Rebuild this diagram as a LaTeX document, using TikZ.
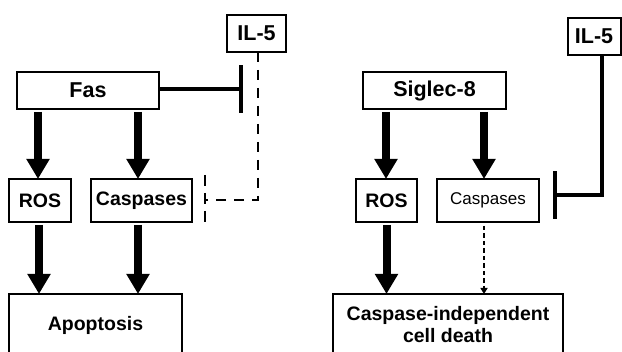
\documentclass[tikz,border=0pt]{standalone}
\usepackage{fontspec}
\setmainfont{Liberation Sans}
\usetikzlibrary{arrows.meta}
\begin{document}
\begin{tikzpicture}[x=1pt,y=-1pt,
  box/.style={draw=black,line width=2pt,fill=white,inner sep=0pt,outer sep=0pt,align=center},
  big/.style={font=\fontsize{21.5}{24}\selectfont\bfseries},
  mid/.style={font=\fontsize{19.5}{22}\selectfont\bfseries},
  thin/.style={font=\fontsize{17}{20}\selectfont},
  fat/.style={line width=8pt,-{Triangle[width=22pt,length=20pt]},shorten <=3pt},
  inhib/.style={line width=4pt,-{Bar[width=48pt]}},
  dashline/.style={line width=1.5pt,dash pattern=on 10pt off 8pt}
]
\useasboundingbox (0,0) rectangle (622,352);
\clip (0,0) rectangle (622,352);
% left
\node[box,big,minimum width=59pt,minimum height=37pt] (IL5L) at (256.5,33.5) {IL-5};
\node[box,big,minimum width=142pt,minimum height=37pt] (Fas) at (88,90.5) {Fas};
\node[box,mid,minimum width=62pt,minimum height=43pt] (ROSL) at (40,200.5) {ROS};
\node[box,mid,minimum width=101pt,minimum height=43pt] (CasL) at (141.5,200.5) {Caspases};
\node[box,mid,minimum width=173pt,minimum height=62pt] (Apop) at (95.5,325) {Apoptosis};
% right
\node[box,big,minimum width=53pt,minimum height=37pt] (IL5R) at (594,36.5) {IL-5};
\node[box,big,minimum width=143pt,minimum height=37pt] (Sig) at (434.5,90.5) {Siglec-8};
\node[box,mid,minimum width=61pt,minimum height=43pt] (ROSR) at (386.5,200.5) {ROS};
\node[box,thin,minimum width=102pt,minimum height=43pt] (CasR) at (488,200.5) {Caspases};
\node[box,mid,minimum width=230pt,minimum height=62pt] (CID) at (448,325) {Caspase-independent\\cell death};
% left arrows
\draw[fat] (Fas.south -| ROSL.north) ++(-2,0) coordinate (a1) -- (a1 |- ROSL.north);
\draw[fat] (Fas.south -| 138,0) coordinate (a2) -- (a2 |- CasL.north);
\draw[fat] (ROSL.south) ++(-1,0) coordinate (a3) -- (a3 |- Apop.north);
\draw[fat] (CasL.south -| 138,0) coordinate (a4) -- (a4 |- Apop.north);
\coordinate (barL) at (243,89.5);
\draw[inhib] (Fas.east |- barL) -- (barL);
\coordinate (dL1) at (258,200);
\coordinate (dL2) at (205,200);
\draw[dashline] (IL5L.south -| dL1) -- (dL1) -- (dL2);
\coordinate (dLt) at (205,175);
\coordinate (dLb) at (205,223);
\draw[dashline,dash pattern=on 11pt off 7pt] (dLt) -- (dLb);
% right arrows
\draw[fat] (Sig.south -| 386,0) coordinate (b1) -- (b1 |- ROSR.north);
\draw[fat] (Sig.south -| 484,0) coordinate (b2) -- (b2 |- CasR.north);
\draw[fat] (ROSR.south) coordinate (b3) -- (b3 |- CID.north);
\draw[line width=2.5pt,dash pattern=on 4.5pt off 3pt,-{Triangle[width=7pt,length=6pt]},shorten <=4pt] (CasR.south -| 484,0) coordinate (b4) -- (b4 |- CID.north);
\coordinate (rc) at (602,195);
\coordinate (barR) at (553,195);
\draw[inhib] (IL5R.south -| rc) -- (rc) -- (barR);
\end{tikzpicture}
\end{document}
